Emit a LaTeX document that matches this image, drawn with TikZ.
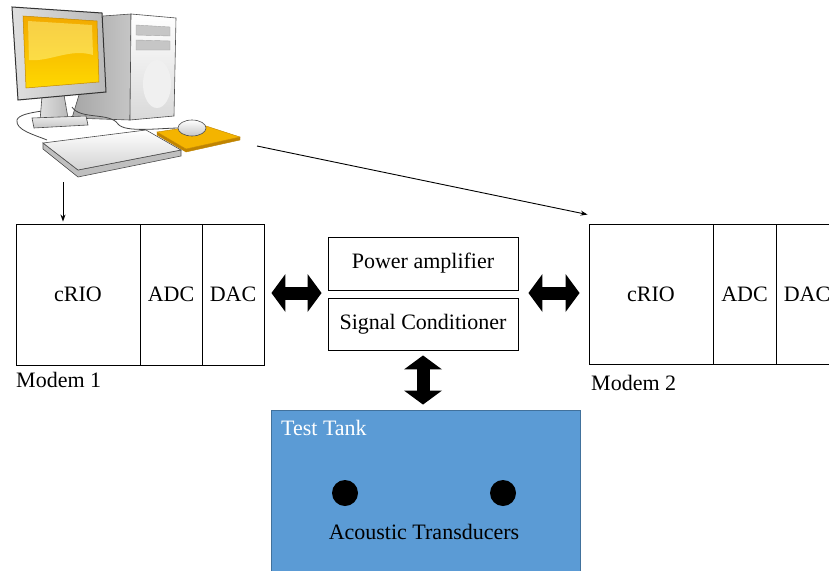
\documentclass[tikz,border=0pt]{standalone}
\usepackage{fontspec}
\setmainfont{Liberation Serif}
\usetikzlibrary{arrows.meta}
\definecolor{tankblue}{HTML}{5B9BD5}
\definecolor{tankedge}{HTML}{41719C}
\definecolor{scrtop}{HTML}{F2A900}
\definecolor{scrbot}{HTML}{FFD800}
\definecolor{padfill}{HTML}{F4B400}
\definecolor{padedge}{HTML}{C08400}
\tikzset{
  cell/.style={draw, line width=0.9pt, inner sep=0pt, minimum height=141pt},
  stage/.style={draw, line width=0.9pt, inner sep=0pt, minimum width=190pt},
  bigarrow/.style={line width=13pt,
    {Triangle[width=38pt,length=14pt,line width=0pt]}-{Triangle[width=38pt,length=14pt,line width=0pt]}},
  link/.style={line width=0.9pt, -{Stealth[length=7pt,width=5pt]}},
  caption/.style={inner sep=0pt, anchor=west},
  pcedge/.style={draw=gray!60!black, line width=0.6pt},
}
\begin{document}
\begin{tikzpicture}[x=1pt,y=-1pt,font=\fontsize{22}{24}\selectfont]
\useasboundingbox (0,0) rectangle (829,570);
\clip (0,0) rectangle (829,570);

% ---------- desktop computer ----------
% tower
\path[pcedge, left color=gray!70, right color=gray!45] (103,16) -- (131,14) -- (130,120) -- (72,118) -- cycle;
\path[pcedge, top color=white, bottom color=gray!30] (131,14) -- (176,18) -- (174,116) -- (130,120) -- cycle;
\path[fill=gray!12] (157,84) ellipse [x radius=14, y radius=24];
\path[draw=gray!70, fill=gray!45] (136,25) -- (170,27) -- (170,36) -- (136,35) -- cycle;
\path[draw=gray!70, fill=gray!45] (136,40) -- (170,41) -- (170,50) -- (136,50) -- cycle;
% cables
\draw[gray!55!black, line width=0.8pt] (66,104) .. controls (60,112) and (20,110) .. (17,120) .. controls (15,130) and (35,135) .. (47,140);
\draw[gray!55!black, line width=0.8pt] (72,107) .. controls (80,120) and (110,112) .. (118,124) .. controls (125,133) and (160,128) .. (180,128);
% monitor stand
\path[pcedge, left color=gray!25, right color=gray!55] (42,96) -- (64,95) -- (68,118) -- (40,121) -- cycle;
\path[pcedge, top color=gray!15, bottom color=gray!45] (32,118) -- (86,116) -- (88,125) -- (34,128) -- cycle;
% monitor
\path[draw=gray!40!black, line width=1pt, left color=gray!25, right color=gray!55] (12,7) -- (102,13) -- (106,92) -- (18,100) -- cycle;
\path[draw=scrtop!80!black, line width=0.5pt, top color=scrtop, bottom color=scrbot] (23,16) -- (97,21) -- (99,82) -- (26,88) -- cycle;
\path[fill=yellow!40!white, opacity=0.45] (28,21) -- (92,25) -- (93,55) .. controls (70,48) and (50,62) .. (29,60) -- cycle;
% keyboard
\path[pcedge, fill=gray!50] (43,143) -- (78,170) -- (181,150) -- (181,156) -- (78,177) -- (43,149) -- cycle;
\path[pcedge, top color=white, bottom color=gray!35] (43,143) -- (146,130) -- (181,150) -- (78,170) -- cycle;
% mouse pad and mouse
\path[draw=padedge, fill=padedge] (157,132) -- (186,149) -- (240,137) -- (240,140) -- (186,152) -- (157,135) -- cycle;
\path[draw=padedge, fill=padfill] (157,132) -- (203,125) -- (240,137) -- (186,149) -- cycle;
\path[pcedge, top color=white, bottom color=gray!45] (192,128) ellipse [x radius=14, y radius=8];

\coordinate (pcout1) at (63,182);
\coordinate (pcout2) at (257,146);

% ---------- modem 1 ----------
\node[cell, minimum width=124pt] (m1crio) at (78,294.5) {cRIO};
\node[cell, minimum width=62pt] (m1adc) at (171,294.5) {ADC};
\node[cell, minimum width=62pt] (m1dac) at (233,294.5) {DAC};
\node[caption] (m1name) at (16,380) {Modem 1};

% ---------- modem 2 ----------
\node[cell, minimum width=124pt, minimum height=140pt] (m2crio) at (651,294) {cRIO};
\node[cell, minimum width=63pt, minimum height=140pt] (m2adc) at (744.5,294) {ADC};
\node[cell, minimum width=62pt, minimum height=140pt] (m2dac) at (807,294) {DAC};
\node[caption] (m2name) at (591,383) {Modem 2};

% ---------- front end ----------
\node[stage, minimum height=53pt] (amp) at (423,263.5) {Power amplifier};
\node[stage, minimum height=52pt] (sc) at (423,324) {Signal Conditioner};

% ---------- test tank ----------
\node[draw=tankedge, fill=tankblue, line width=0.9pt, inner sep=0pt,
      minimum width=309pt, minimum height=170pt] (tank) at (425.5,495) {};
\node[caption, text=white] (tanklabel) at (281,428) {Test Tank};
\node[circle, fill=black, inner sep=0pt, minimum size=26pt] (tr1) at (345,493) {};
\node[circle, fill=black, inner sep=0pt, minimum size=26pt] (tr2) at (503,493) {};
\node[inner sep=0pt] (trlabel) at (424,532) {Acoustic Transducers};

% ---------- connectors ----------
\draw[link] (pcout1) -- ([yshift=2pt]m1crio.north -| pcout1);
\draw[link] (pcout2) -- ([shift={(-1pt,9pt)}]m2crio.north west);
\draw[bigarrow] ([shift={(7pt,1.5pt)}]m1dac.east) -- ([shift={(-6pt,1.5pt)}]m1dac.east -| amp.west);
\draw[bigarrow] ([shift={(10pt,1pt)}]amp.east |- m2crio.west) -- ([shift={(-9pt,1pt)}]m2crio.west);
\draw[bigarrow] ([yshift=-5pt]sc.south) -- ([yshift=5pt]sc.south |- tank.north);
\end{tikzpicture}
\end{document}
